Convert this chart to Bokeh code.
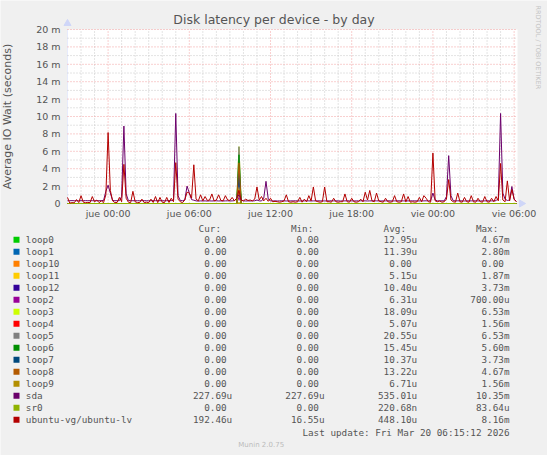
import numpy as np
from bokeh.plotting import figure
from bokeh.models import Range1d, FixedTicker, LinearAxis
from bokeh.embed import file_html
from bokeh.resources import INLINE
from bokeh.core.properties import value

# x axis in hours from Thursday 00:00, one sample every 10 minutes
t_first = -3.0
t_step = 1 / 6
x_ticks = [0, 6, 12, 18, 24, 30]
x_tick_labels = ["jue 00:00", "jue 06:00", "jue 12:00", "jue 18:00", "vie 00:00", "vie 06:00"]
y_ticks = [0, 2, 4, 6, 8, 10, 12, 14, 16, 18, 20]
y_tick_labels = ["0", "2 m", "4 m", "6 m", "8 m", "10 m", "12 m", "14 m", "16 m", "18 m", "20 m"]

# values in milliseconds
sda = [
    0.32, 0.32, 0.33, 0.32, 0.32, 0.31, 0.32, 0.32, 0.33, 0.32, 0.32, 0.32, 0.31, 0.32, 0.32, 0.33, 0.35, 1.40, 2.10, 1.20,
    0.35, 0.32, 0.32, 0.33, 0.80, 8.90, 1.10, 0.34, 0.32, 0.32, 0.31, 0.32, 0.32, 0.33, 0.32, 0.32, 0.31, 0.32, 0.32, 0.32,
    0.33, 0.32, 0.32, 0.31, 0.32, 0.32, 0.33, 0.40, 10.35, 0.90, 0.34, 0.32, 0.40, 2.00, 1.20, 0.45, 0.38, 0.30, 0.28, 0.30,
    0.29, 0.30, 0.28, 0.30, 0.29, 0.30, 0.31, 0.29, 0.30, 0.29, 0.30, 0.31, 0.29, 0.30, 0.32, 0.60, 1.00, 0.40, 0.30, 0.29,
    0.30, 0.29, 0.30, 0.31, 0.40, 0.30, 0.29, 0.60, 2.55, 0.50, 0.30, 0.29, 0.30, 0.29, 0.30, 0.31, 0.30, 0.29, 0.30, 0.30,
    0.30, 0.31, 0.30, 0.29, 0.30, 0.30, 0.31, 0.30, 0.29, 0.30, 0.30, 0.31, 0.30, 0.30, 0.29, 0.30, 0.30, 0.31, 0.30, 0.30,
    0.30, 0.29, 0.30, 0.30, 0.31, 0.30, 0.30, 0.29, 0.30, 0.30, 0.31, 0.30, 0.30, 0.29, 0.30, 0.30, 0.31, 0.30, 0.30, 0.29,
    0.30, 0.30, 0.31, 0.30, 0.29, 0.30, 0.30, 0.31, 0.30, 0.30, 0.29, 0.30, 0.30, 0.31, 0.30, 0.30, 0.29, 0.30, 0.30, 0.31,
    0.30, 0.32, 1.20, 0.40, 0.30, 0.30, 0.31, 0.30, 0.80, 5.50, 0.90, 0.32, 0.30, 0.31, 0.30, 0.30, 0.29, 0.30, 0.30, 0.30,
    0.30, 0.31, 0.30, 0.29, 0.30, 0.30, 0.31, 0.30, 0.30, 0.30, 0.32, 0.60, 10.35, 1.20, 0.50, 0.35, 0.40, 1.95, 0.50, 0.23,
]
ubuntu_lv = [
    0.70, 0.05, 0.10, 0.08, 0.45, 0.10, 0.90, 0.15, 0.10, 0.12, 0.10, 0.80, 0.20, 0.40, 0.10, 0.30, 0.10, 1.00, 8.16, 1.50,
    0.30, 0.10, 0.12, 0.70, 0.20, 4.50, 0.60, 0.15, 0.10, 1.40, 0.20, 0.10, 0.12, 0.50, 0.10, 0.15, 0.10, 0.50, 0.12, 0.80,
    0.10, 0.70, 0.15, 0.10, 0.70, 0.12, 0.60, 0.20, 4.70, 0.50, 0.20, 0.10, 0.40, 1.30, 1.20, 0.60, 4.45, 0.50, 0.30, 1.00,
    0.30, 0.80, 0.35, 0.40, 1.10, 0.30, 0.40, 1.00, 0.35, 0.30, 0.90, 0.40, 0.35, 0.70, 0.30, 0.60, 1.50, 0.40, 0.30, 0.50,
    0.35, 0.40, 0.30, 0.50, 1.90, 0.40, 0.80, 0.30, 0.60, 0.25, 0.60, 0.20, 0.25, 0.20, 0.15, 0.20, 0.30, 1.00, 0.20, 0.15,
    0.20, 0.15, 0.20, 0.70, 0.15, 0.50, 0.20, 0.90, 0.30, 1.90, 0.30, 0.20, 0.15, 0.20, 1.90, 0.20, 0.20, 0.15, 0.60, 0.20,
    0.15, 0.20, 0.20, 1.10, 0.20, 0.15, 0.60, 0.20, 0.15, 0.20, 0.50, 0.20, 1.30, 0.40, 1.50, 0.30, 0.20, 1.20, 0.30, 0.20,
    0.15, 0.60, 0.20, 0.15, 0.20, 0.90, 0.20, 0.15, 0.20, 1.10, 0.20, 0.80, 0.15, 0.20, 0.15, 0.20, 0.70, 0.20, 0.90, 0.60,
    0.20, 0.15, 5.80, 0.30, 0.20, 0.30, 0.15, 0.20, 0.50, 2.75, 0.40, 0.20, 0.15, 1.20, 0.20, 0.15, 0.70, 0.20, 0.15, 0.90,
    0.20, 0.15, 0.60, 0.20, 0.15, 0.80, 0.20, 0.15, 0.60, 0.20, 0.80, 0.30, 4.60, 0.40, 0.20, 2.60, 0.30, 1.60, 0.50, 0.19,
]
# loop devices are flat at zero except one burst around 09:40
loop_burst_hour = 9.67
loop_names = ["loop0", "loop1", "loop10", "loop11", "loop12", "loop2", "loop3",
              "loop4", "loop5", "loop6", "loop7", "loop8", "loop9"]
loop_peaks = [4.67, 2.80, 0.0, 1.87, 3.73, 0.70, 6.53, 1.56, 6.53, 5.60, 3.73, 4.67, 1.56]
sr0_peak = 0.084

# legend table
devices = loop_names + ["sda", "sr0", "ubuntu-vg/ubuntu-lv"]
colors = ["#00CC00", "#0066B3", "#FF8000", "#FFCC00", "#330099", "#990099", "#CCFF00", "#FF0000",
          "#808080", "#008F00", "#00487D", "#B35A00", "#B38F00", "#6B006B", "#8FB300", "#B30000"]
cur_vals = ["0.00"] * 13 + ["227.69u", "0.00", "192.46u"]
min_vals = ["0.00"] * 13 + ["227.69u", "0.00", "16.55u"]
avg_vals = ["12.95u", "11.39u", "0.00", "5.15u", "10.40u", "6.31u", "18.09u", "5.07u",
            "20.55u", "15.45u", "10.37u", "13.22u", "6.71u", "535.01u", "220.68n", "448.10u"]
max_vals = ["4.67m", "2.80m", "0.00", "1.87m", "3.73m", "700.00u", "6.53m", "1.56m",
            "6.53m", "5.60m", "3.73m", "4.67m", "1.56m", "10.35m", "83.64u", "8.16m"]

BG = "#F0F0F0"
TXT = "#555555"
AXIS = "#CFD6F8"

# canvas geometry (pixels) of the munin image
W, H = 547, 455
px_left, px_right, px_top, px_zero = 67, 517, 29, 203
t_lo, t_hi = -3.0, 30.25
y_lo, y_hi = 0, 20
kx = (px_right - px_left) / (t_hi - t_lo)
ky = (px_zero - px_top) / (y_hi - y_lo)

t = t_first + np.arange(len(sda)) * t_step
t_last = t[-1]

p = figure(width=W, height=H,
           x_range=Range1d(t_lo - px_left / kx, t_hi + (W - px_right) / kx),
           y_range=Range1d(y_lo - (H - px_zero) / ky, y_hi + px_top / ky),
           x_axis_location=None, y_axis_location=None,
           output_backend="svg", toolbar_location=None, min_border=0)
p.grid.visible = False
p.outline_line_color = None
p.background_fill_color = BG
p.border_fill_color = BG
# pixel coordinates for the texts around the graph
p.extra_x_ranges = {"px": Range1d(0, W)}
p.extra_y_ranges = {"px": Range1d(H, 0)}

# white graph area and rrdtool style dotted grid
p.quad(left=[t_lo], right=[t_hi], bottom=[y_lo], top=[y_hi], fill_color="white", line_color=None)
minor_x = [h for h in range(-2, 31) if h not in x_ticks]
minor_y = [v for v in range(1, 20, 2)]
p.segment(x0=minor_x, y0=y_lo, x1=minor_x, y1=y_hi, line_color="#C8C8C8", line_dash="1 2", line_width=1)
p.segment(x0=t_lo, y0=minor_y, x1=t_hi, y1=minor_y, line_color="#C8C8C8", line_dash="1 2", line_width=1)
p.segment(x0=x_ticks, y0=y_lo, x1=x_ticks, y1=y_hi, line_color="#F2A0A0", line_dash="1 2", line_width=1)
p.segment(x0=t_lo, y0=y_ticks[1:], x1=t_hi, y1=y_ticks[1:], line_color="#F2A0A0", line_dash="1 2", line_width=1)

yax = LinearAxis(fixed_location=t_lo, bounds=(y_lo, y_hi), ticker=FixedTicker(ticks=y_ticks),
                 axis_label="Average IO Wait (seconds)")
yax.major_label_overrides = dict(zip(y_ticks, y_tick_labels))
yax.axis_label_text_font = "DejaVu Sans"
yax.axis_label_text_font_size = "11px"
yax.axis_label_text_font_style = "normal"
yax.axis_label_text_color = TXT
yax.axis_label_standoff = 19
yax.major_label_standoff = 7
xax = LinearAxis(fixed_location=y_lo, bounds=(t_lo, t_hi), ticker=FixedTicker(ticks=x_ticks))
xax.major_label_overrides = dict(zip(x_ticks, x_tick_labels))
xax.major_label_standoff = 4
for ax in (xax, yax):
    ax.major_label_text_font = "DejaVu Sans"
    ax.major_label_text_font_size = "9.5px"
    ax.major_label_text_color = TXT
    ax.major_tick_out = 0
    ax.major_tick_in = 0
    ax.minor_tick_out = 0
    ax.minor_tick_in = 0
    ax.axis_line_color = AXIS
    ax.level = "underlay"
p.add_layout(yax, "left")
p.add_layout(xax, "below")
p.scatter([t_lo], [y_hi + 6 / ky], marker="triangle", size=7, color=AXIS)
p.scatter([t_hi + 4 / kx], [y_lo], marker="triangle", size=7, angle=-np.pi / 2, color=AXIS)

# loops first, then sda, sr0 and ubuntu-lv on top (munin draw order)
burst_t = [t_first, loop_burst_hour - t_step, loop_burst_hour, loop_burst_hour + t_step, t_last]
for name, peak, col in zip(loop_names, loop_peaks, colors):
    p.line(burst_t, [0, 0, peak, 0, 0], line_color=col, line_width=1)
p.line(t, sda, line_color=colors[13], line_width=1)
p.line(burst_t, [0, 0, sr0_peak, 0, 0], line_color=colors[14], line_width=1)
p.line(t, ubuntu_lv, line_color=colors[15], line_width=1)

# titles
p.text([273.5], [19], text=["Disk latency per device - by day"], x_range_name="px", y_range_name="px",
       text_font=value("DejaVu Sans"), text_font_size="12.5px", text_color=TXT,
       text_align="center", text_baseline="middle")
p.text([537], [5], text=["RRDTOOL / TOBI OETIKER"], x_range_name="px", y_range_name="px",
       angle=-np.pi / 2, text_font=value("DejaVu Sans"), text_font_size="6.5px", text_color="#C4C4C4",
       text_align="left", text_baseline="middle")

# legend table below the graph
char_w = 5.6
mono = value("DejaVu Sans Mono")
row_y = [239.3 + 12 * i for i in range(len(devices))]
p.scatter([16] * len(devices), row_y, x_range_name="px", y_range_name="px",
          marker="square", size=6, color=colors, line_color=None)
p.text([25.3] * len(devices), row_y, text=devices, x_range_name="px", y_range_name="px",
       text_font=mono, text_font_size="9.3px", text_color=TXT, text_baseline="middle")
col_right = [231.7, 324.0, 416.7, 509.0]
headers = ["Cur:", "Min:", "Avg:", "Max:"]
p.text([c - 2 * char_w for c in col_right], [228] * 4, text=headers, x_range_name="px", y_range_name="px",
       text_font=mono, text_font_size="9.3px", text_color=TXT, text_align="right", text_baseline="middle")
for c, vals in zip(col_right, [cur_vals, min_vals, avg_vals, max_vals]):
    xs = [c if v[-1].isalpha() else c - char_w for v in vals]
    p.text(xs, row_y, text=vals, x_range_name="px", y_range_name="px",
           text_font=mono, text_font_size="9.3px", text_color=TXT, text_align="right", text_baseline="middle")
p.text([509.0], [431.7], text=["Last update: Fri Mar 20 06:15:12 2026"], x_range_name="px", y_range_name="px",
       text_font=mono, text_font_size="9.3px", text_color=TXT, text_align="right", text_baseline="middle")
p.text([260.7], [444], text=["Munin 2.0.75"], x_range_name="px", y_range_name="px",
       text_font=value("DejaVu Sans"), text_font_size="7px", text_color="#BBBBBB",
       text_align="center", text_baseline="middle")

open("out.html", "w").write(file_html(p, INLINE))
